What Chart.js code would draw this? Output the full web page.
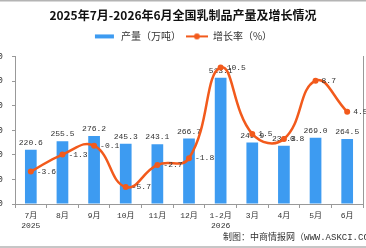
<!DOCTYPE html>
<html><head><meta charset="utf-8">
<script src="https://cdn.jsdelivr.net/npm/chart.js@4/dist/chart.umd.min.js"></script>
<style>html,body{margin:0;padding:0;background:#fff;overflow:hidden}#wrap{position:relative;width:366px;height:248px}</style>
</head><body><div id="wrap"><canvas id="c" width="366" height="248"></canvas></div>
<script>
const categories = [['7月','2025'],'8月','9月','10月','11月','12月',['1-2月','2026'],'3月','4月','5月','6月'];
const output = [220.6, 255.5, 276.2, 245.3, 243.1, 266.7, 513.1, 249.9, 236.3, 269.0, 264.5];
const growth = [-3.6, -1.3, -0.1, -5.7, -2.7, -1.8, 10.5, 1.5, 0.8, 8.7, 4.5];
const leftTicks = [0, 100, 200, 300, 400, 500, 600];
const rightRange = [-8, 12];
const titleText = '2025年7月-2026年6月全国乳制品产量及增长情况';
const seriesNames = ['产量（万吨）', '增长率（%）'];
const sourceText = '制图：中商情报网（WWW.ASKCI.COM）';

const BLUE = '#3D9BF1', ORANGE = '#F25A1C';
const MONO = '"Liberation Mono","Noto Sans CJK SC",monospace';
const CJK = '"Noto Sans CJK SC","Noto Sans",sans-serif';

function makeIcon(kind){
  const cv = document.createElement('canvas');
  cv.width = 22; cv.height = 8;
  const g = cv.getContext('2d');
  if (kind === 'bar'){ g.fillStyle = BLUE; g.fillRect(1,2,19,4); }
  else { g.strokeStyle = ORANGE; g.lineWidth = 2; g.beginPath(); g.moveTo(0,4); g.lineTo(22,4); g.stroke();
    g.fillStyle = ORANGE; g.beginPath(); g.arc(11,4,3,0,Math.PI*2); g.fill(); }
  return cv;
}
const icons = [makeIcon('bar'), makeIcon('line')];

const labelPlugin = {
  id: 'valueLabels',
  afterDatasetDraw(chart, args){
    const ctx = chart.ctx;
    const ds = chart.data.datasets[args.index];
    ctx.save();
    ctx.font = '8px ' + MONO;
    ctx.fillStyle = '#333';
    args.meta.data.forEach((el, i) => {
      const v = ds.data[i].toFixed(1);
      if (args.index === 0){ ctx.textAlign='center'; ctx.textBaseline='bottom'; ctx.fillText(v, el.x, el.y - 3); }
      else { ctx.textAlign='left'; ctx.textBaseline='middle'; ctx.fillText(v, el.x + 6, el.y); }
    });
    ctx.restore();
  },
  afterDraw(chart){
    const ctx = chart.ctx;
    ctx.save();
    ctx.strokeStyle = '#b4b4b4'; ctx.lineWidth = 1.5;
    ctx.beginPath(); ctx.moveTo(0,0.75); ctx.lineTo(366,0.75); ctx.moveTo(0,247); ctx.lineTo(366,247); ctx.stroke();
    ctx.font = '9px ' + MONO; ctx.fillStyle = '#333'; ctx.textAlign='left'; ctx.textBaseline='middle';
    ctx.fillText(sourceText, 223, 238);
    ctx.restore();
  }
};

new Chart(document.getElementById('c'), {
  data: {
    labels: categories,
    datasets: [
      { type:'bar', label: seriesNames[0], data: output, backgroundColor: BLUE, yAxisID:'y', order:1,
        barPercentage:0.37, categoryPercentage:1 },
      { type:'line', label: seriesNames[1], data: growth, borderColor: ORANGE, backgroundColor: ORANGE, borderWidth:2.5,
        pointRadius:3, pointHoverRadius:3, pointBackgroundColor: ORANGE, pointBorderWidth:0, tension:0.45, yAxisID:'y1', order:0 }
    ]
  },
  options: {
    responsive:false, animation:false, devicePixelRatio:1,
    layout:{ padding:{ top:0, left:0, right:0, bottom:14 } },
    plugins:{
      title:{ display:true, text:titleText, color:'#111', font:{ family:CJK, size:12, weight:'bold', lineHeight:1.2 }, padding:{ top:8, bottom:4 } },
      subtitle:{ display:true, text:' ', weight:500, font:{ size:1, lineHeight:1 }, padding:{ top:0, bottom:4 } },
      legend:{ display:true, position:'top',
        labels:{ usePointStyle:true, pointStyleWidth:22, boxHeight:8, color:'#333', font:{ family:CJK, size:10 }, padding:5,
          generateLabels(chart){
            return chart.data.datasets.map((d,i)=>({ text:d.label, pointStyle:icons[i], fillStyle:'transparent', strokeStyle:'transparent', lineWidth:0, datasetIndex:i, fontColor:'#333' }));
          } } },
      tooltip:{ enabled:false }
    },
    scales:{
      x:{ grid:{ display:true, drawOnChartArea:false, drawTicks:true, tickLength:4, color:'#999', offset:true },
          border:{ display:true, color:'#999' },
          ticks:{ color:'#333', font:{ family:MONO, size:8, lineHeight:1.25 }, padding:3, maxRotation:0, autoSkip:false } },
      y:{ position:'left', min:leftTicks[0], max:leftTicks[leftTicks.length-1],
          afterBuildTicks(s){ s.ticks = leftTicks.map(v=>({value:v})); },
          afterFit(s){ s.width = 15; },
          grid:{ drawOnChartArea:false, drawTicks:true, tickLength:3, color:'#999' },
          border:{ display:true, color:'#999' },
          ticks:{ color:'#333', font:{ family:MONO, size:9 }, padding:9 } },
      y1:{ position:'right', min:rightRange[0], max:rightRange[1],
          afterFit(s){ s.width = 1; },
          grid:{ drawOnChartArea:false, drawTicks:false },
          border:{ display:true, color:'#999' },
          ticks:{ display:false } }
    }
  },
  plugins:[labelPlugin]
});
</script></body></html>
